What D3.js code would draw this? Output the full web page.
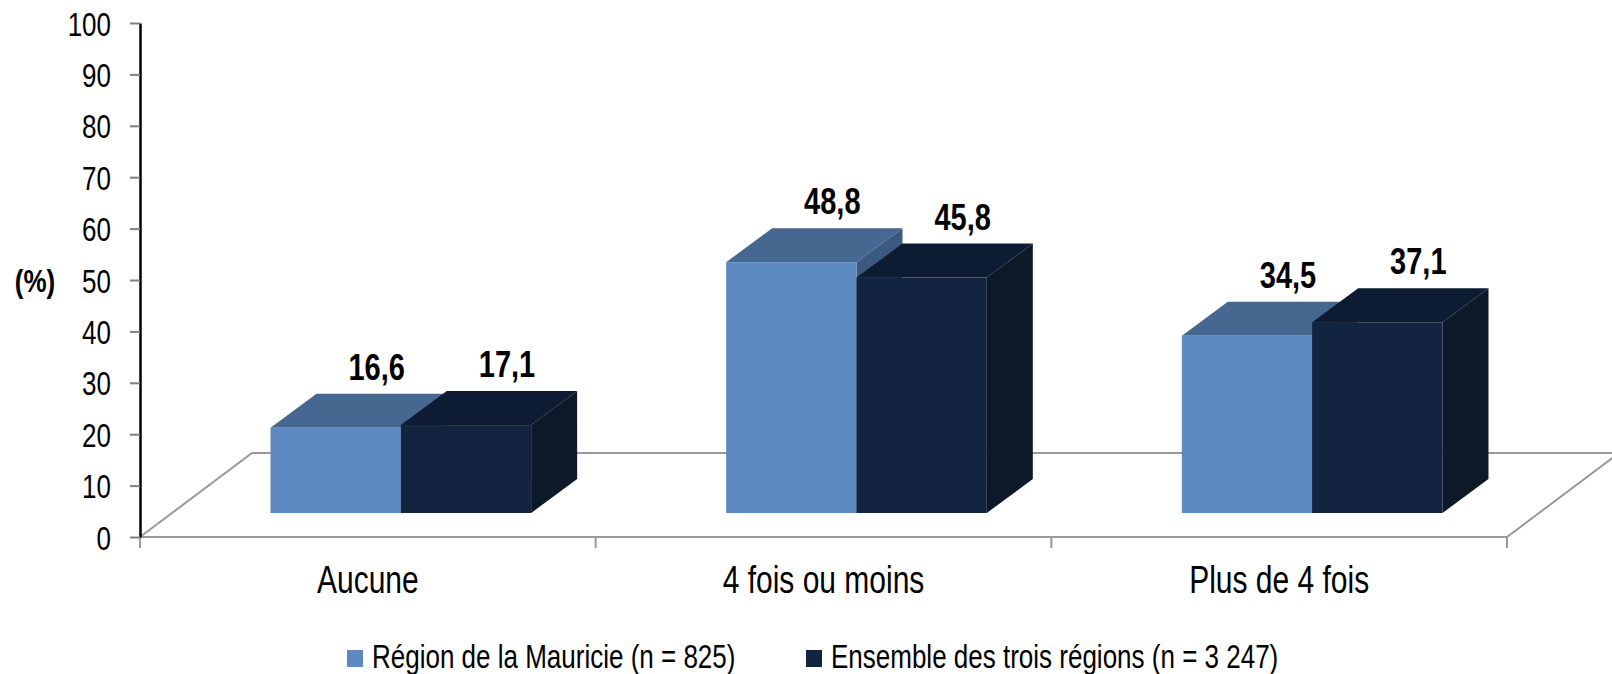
<!DOCTYPE html>
<html>
<head>
<meta charset="utf-8">
<script src="https://cdn.jsdelivr.net/npm/d3@7"></script>
<style>
  body { margin: 0; background: #fff; }
  svg { display: block; font-family: "Liberation Sans", Arial, sans-serif; }
</style>
</head>
<body>
<div id="chart"></div>
<script>
// data
var categories = ["Aucune", "4 fois ou moins", "Plus de 4 fois"];
var series = ["Région de la Mauricie (n = 825)", "Ensemble des trois régions (n = 3 247)"];
var mauricie = [16.6, 48.8, 34.5];
var ensemble = [17.1, 45.8, 37.1];
var yTicks = [0, 10, 20, 30, 40, 50, 60, 70, 80, 90, 100];

var values = [mauricie, ensemble];

var width = 1612, height = 674;

// colours per series: front, top, side
var colors = [
  {front: "#5B89C0", top: "#46678F", side: "#3C5A80"},
  {front: "#12243F", top: "#0D1C32", side: "#0D1928"}
];

var svg = d3.select("#chart").append("svg")
    .attr("width", width)
    .attr("height", height);

var y = d3.scaleLinear().domain([0, 100]).range([537, 23]);

var x0 = d3.scaleBand()
    .domain(categories)
    .range([140, 1507])
    .paddingInner(0.428)
    .paddingOuter(0.214);

var x1 = d3.scaleBand()
    .domain(d3.range(series.length))
    .range([0, x0.bandwidth()]);

// 3d depth of the floor and of the bars
var floorDx = 112, floorDy = 84;
var barDx = 46, barDy = 34;
var offDx = 33, offDy = 24; // bars sit in the middle of the floor depth

var x0min = x0.range()[0], x0max = x0.range()[1];

// floor
svg.append("path")
    .attr("d", "M" + x0min + "," + y(0) +
               "L" + (x0min + floorDx) + "," + (y(0) - floorDy) +
               "L" + (x0max + floorDx) + "," + (y(0) - floorDy) +
               "L" + x0max + "," + y(0))
    .attr("fill", "none")
    .attr("stroke", "#999")
    .attr("stroke-width", 2);

// category axis line + ticks
svg.append("line")
    .attr("x1", x0min).attr("x2", x0max)
    .attr("y1", y(0)).attr("y2", y(0))
    .attr("stroke", "#999").attr("stroke-width", 2);

var sepTicks = d3.range(categories.length + 1).map(function(i){ return x0min + i * x0.step(); });
svg.append("g").selectAll("line")
    .data(sepTicks)
    .enter().append("line")
    .attr("x1", function(d){ return d; })
    .attr("x2", function(d){ return d; })
    .attr("y1", y(0))
    .attr("y2", y(0) + 11)
    .attr("stroke", "#999")
    .attr("stroke-width", 2);

// category labels
svg.append("g").selectAll("g")
    .data(categories)
    .enter().append("g")
    .attr("transform", function(d){
      return "translate(" + (x0(d) + x0.bandwidth() / 2) + ",593) scale(1,1.3)";
    })
    .append("text")
    .attr("text-anchor", "middle")
    .style("font-size", "30px")
    .attr("fill", "#000")
    .text(function(d){ return d; });

// y axis
var yAxis = d3.axisLeft(y)
    .tickValues(yTicks)
    .tickSize(10)
    .tickSizeOuter(0)
    .tickPadding(19);

var yg = svg.append("g")
    .attr("transform", "translate(140,0)")
    .call(yAxis);

yg.select(".domain")
    .attr("stroke", "#000")
    .attr("stroke-width", 2.5);
yg.selectAll(".tick line")
    .attr("stroke", "#808080")
    .attr("stroke-width", 2);
yg.selectAll(".tick text")
    .attr("dy", "0.36em")
    .attr("transform", "scale(1,1.3)")
    .style("font-size", "26px")
    .style("font-family", "'Liberation Sans', Arial, sans-serif")
    .attr("fill", "#000");

// y axis title
svg.append("g")
    .attr("transform", "translate(35,281) scale(1,1.2)")
    .append("text")
    .attr("text-anchor", "middle")
    .attr("dy", "0.36em")
    .style("font-size", "26px")
    .style("font-weight", "bold")
    .text("(%)");

// bars
var bars = [];
categories.forEach(function(c, ci){
  series.forEach(function(s, si){
    bars.push({cat: c, s: si, v: values[si][ci]});
  });
});

var barG = svg.append("g")
    .selectAll("g")
    .data(bars)
    .enter().append("g");

function bx(d){ return x0(d.cat) + x1(d.s) + offDx; }
function bw(){ return x1.bandwidth(); }
function bBottom(){ return y(0) - offDy; }
function bTop(d){ return y(d.v) - offDy; }

// top face
barG.append("path")
    .attr("fill", function(d){ return colors[d.s].top; })
    .attr("d", function(d){
      var x = bx(d), t = bTop(d);
      return "M" + x + "," + t + "L" + (x + barDx) + "," + (t - barDy) +
             "L" + (x + bw() + barDx) + "," + (t - barDy) + "L" + (x + bw()) + "," + t + "Z";
    });

// side face
barG.append("path")
    .attr("fill", function(d){ return colors[d.s].side; })
    .attr("d", function(d){
      var x = bx(d) + bw(), t = bTop(d), b = bBottom();
      return "M" + x + "," + t + "L" + (x + barDx) + "," + (t - barDy) +
             "L" + (x + barDx) + "," + (b - barDy) + "L" + x + "," + b + "Z";
    });

// front face
barG.append("rect")
    .attr("x", bx)
    .attr("y", bTop)
    .attr("width", bw())
    .attr("height", function(d){ return bBottom() - bTop(d); })
    .attr("fill", function(d){ return colors[d.s].front; });

// value labels
barG.append("g")
    .attr("transform", function(d){
      return "translate(" + (bx(d) + bw() / 2 + 41) + "," + (bTop(d) - barDy - 14) + ") scale(1,1.25)";
    })
    .append("text")
    .attr("text-anchor", "middle")
    .style("font-size", "29px")
    .style("font-weight", "bold")
    .attr("fill", "#000")
    .text(function(d){ return d3.format(".1f")(d.v).replace(".", ","); });

// legend
var legendX = [347, 806];
var lg = svg.append("g").selectAll("g")
    .data(series)
    .enter().append("g")
    .attr("transform", function(d, i){ return "translate(" + legendX[i] + ",650)"; });

lg.append("rect")
    .attr("width", 16)
    .attr("height", 17)
    .attr("fill", function(d, i){ return colors[i].front; });

lg.append("g")
    .attr("transform", "translate(25,18) scale(1,1.28)")
    .append("text")
    .style("font-size", "26px")
    .attr("fill", "#000")
    .text(function(d){ return d; });
</script>
</body>
</html>
